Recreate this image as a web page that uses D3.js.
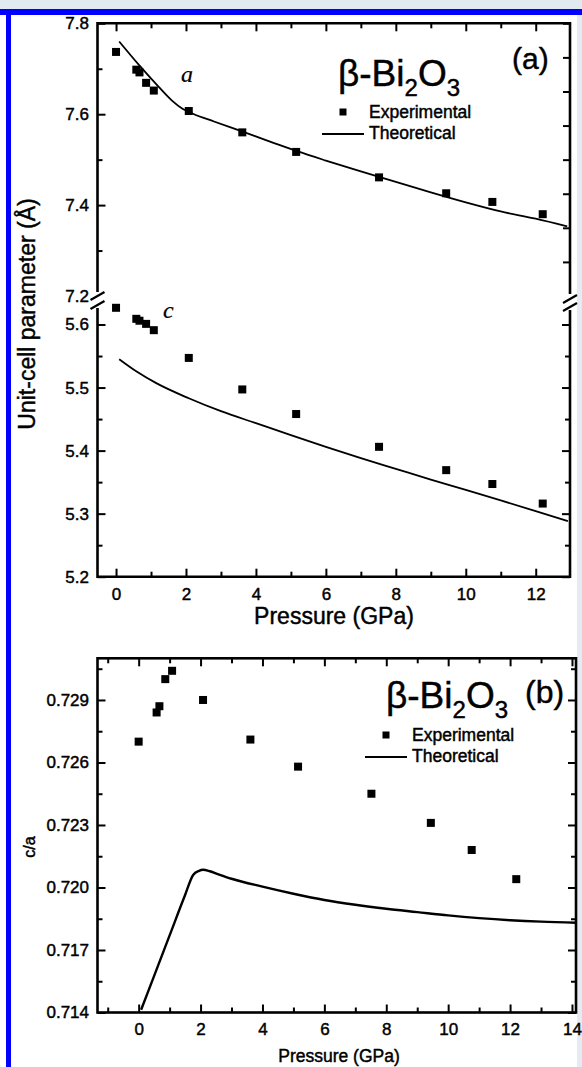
<script src="https://d3js.org/d3.v7.min.js"></script>
<style>
body { margin: 0; background: #fff; }
text { font-family: "Liberation Sans", Arial, sans-serif; fill: #000; stroke: #000; stroke-width: 0.45px; }
text.serif { font-family: "Liberation Serif", "Times New Roman", serif; font-style: italic; stroke-width: 0.2px; }
</style>
<svg id="fig" width="582" height="1067"></svg>
<script>
// pressures of the measured points (GPa)
var pExp = [0, 0.58, 0.67, 0.86, 1.08, 2.08, 3.61, 5.15, 7.52, 9.44, 10.76, 12.2]
var aExp = [7.737, 7.698, 7.692, 7.669, 7.652, 7.607, 7.560, 7.517, 7.461, 7.426, 7.407, 7.380]
var cExp = [5.6265, 5.609, 5.606, 5.601, 5.591, 5.547, 5.497, 5.458, 5.406, 5.369, 5.347, 5.316]
var caExp = [0.7270, 0.7284, 0.7287, 0.7300, 0.7304, 0.7290, 0.7271, 0.7258, 0.7245, 0.7231, 0.7218, 0.7204]

// theoretical curves
var pTheoA = [0.09, 0.66, 1.2, 1.6, 1.9, 2.2, 2.8, 3.6, 4.5, 5.2, 6.0, 7.0, 8.0, 9.0, 10.0, 11.0, 12.0, 12.9]
var aTheo = [7.760, 7.708, 7.662, 7.630, 7.612, 7.601, 7.584, 7.562, 7.537, 7.518, 7.498, 7.474, 7.451, 7.428, 7.406, 7.386, 7.370, 7.353]
var pTheoC = [0.09, 0.6, 1.15, 2.08, 3.0, 4.0, 5.0, 6.0, 7.0, 8.0, 9.0, 10.0, 11.0, 12.0, 12.92]
var cTheo = [5.545, 5.525, 5.507, 5.483, 5.4625, 5.4435, 5.4245, 5.406, 5.388, 5.371, 5.354, 5.3376, 5.321, 5.304, 5.288]
var pTheoCA = [0.08, 0.5, 1.0, 1.5, 1.76, 1.95, 2.08, 2.3, 2.6, 3.0, 4.0, 5.0, 6.0, 7.0, 8.0, 9.0, 10.0, 11.0, 12.0, 13.0, 14.15]
var caTheo = [0.71413, 0.71576, 0.71770, 0.71964, 0.72060, 0.72080, 0.72085, 0.72078, 0.72062, 0.72042, 0.72004, 0.71970, 0.71940, 0.71917, 0.71898, 0.71882, 0.71866, 0.71853, 0.71843, 0.71836, 0.71831]

// ticks
var xTicksA = [0, 2, 4, 6, 8, 10, 12]
var xMinorA = [1, 3, 5, 7, 9, 11]
var yTicksUp = [7.2, 7.4, 7.6, 7.8]
var yMinorUp = [7.3, 7.5, 7.7]
var yTicksLow = [5.2, 5.3, 5.4, 5.5, 5.6]
var yMinorLow = [5.25, 5.35, 5.45, 5.55]
var yRightUp = [7.275, 7.35, 7.425, 7.5, 7.575, 7.65, 7.725, 7.8]
var xTicksB = [0, 2, 4, 6, 8, 10, 12, 14]
var xMinorB = [-1, 1, 3, 5, 7, 9, 11, 13]
var yTicksB = [0.714, 0.717, 0.720, 0.723, 0.726, 0.729]
var yMinorB = [0.7155, 0.7185, 0.7215, 0.7245, 0.7275, 0.7305]

var svg = d3.select("#fig")

// page frame
svg.append("rect").attr("x", 0).attr("y", 0).attr("width", 582).attr("height", 9).attr("fill", "#e1e9f1")
svg.append("rect").attr("x", 577).attr("y", 9).attr("width", 5).attr("height", 1058).attr("fill", "#e4ebf2")
svg.append("rect").attr("x", 0).attr("y", 9).attr("width", 582).attr("height", 6).attr("fill", "#0000ff")
svg.append("rect").attr("x", 6).attr("y", 9).attr("width", 5).attr("height", 1058).attr("fill", "#0000ff")

var A = {left: 97.5, right: 570, top: 23.3, bottom: 576.7, brkTop: 292, brkBot: 308}
var B = {left: 97.5, right: 576, top: 658.3, bottom: 1012.5}

var xA = d3.scaleLinear().domain([-0.53, 12.98]).range([A.left, A.right])
var yUp = d3.scaleLinear().domain([7.2, 7.8]).range([296, A.top])
var yLow = d3.scaleLinear().domain([5.2, 5.6]).range([A.bottom, 324.5])
var xB = d3.scaleLinear().domain([-1.33, 14.13]).range([B.left, B.right])
var yB = d3.scaleLinear().domain([0.714, 0.731]).range([B.bottom, B.top])

function side(tr, gen, vals, size, fmt, pad, fs) {
    let g = svg.append("g").attr("transform", tr)
        .call(gen.tickValues(vals).tickSize(-size).tickPadding(pad).tickFormat(fmt))
    g.select(".domain").remove()
    g.attr("font-size", fs)
    g.selectAll("line").attr("stroke", "#000").attr("stroke-width", 2)
    g.selectAll("text").attr("fill", "#000")
    return g
}
var none = function() { return "" }

// ---- panel (a) axes
side("translate(0," + A.bottom + ")", d3.axisBottom(xA), xTicksA, 8, d3.format("d"), 11, 17)
side("translate(0," + A.bottom + ")", d3.axisBottom(xA), xMinorA, 5, none, 0, 10)
side("translate(0," + A.top + ")", d3.axisTop(xA), xTicksA, 8, none, 0, 10)
side("translate(0," + A.top + ")", d3.axisTop(xA), xMinorA, 5, none, 0, 10)
side("translate(" + A.left + ",0)", d3.axisLeft(yUp), yTicksUp, 8, d3.format(".1f"), 8.5, 17)
  .selectAll(".tick").filter(function(d) { return d == 7.2 }).select("line").remove()
side("translate(" + A.left + ",0)", d3.axisLeft(yUp), yMinorUp, 5, none, 0, 10)
side("translate(" + A.left + ",0)", d3.axisLeft(yLow), yTicksLow, 8, d3.format(".1f"), 8.5, 17)
side("translate(" + A.left + ",0)", d3.axisLeft(yLow), yMinorLow, 5, none, 0, 10)
side("translate(" + A.right + ",0)", d3.axisRight(yUp), yRightUp, 7, none, 0, 10)
side("translate(" + A.right + ",0)", d3.axisRight(yLow), yTicksLow, 8, none, 0, 10)
side("translate(" + A.right + ",0)", d3.axisRight(yLow), yMinorLow, 5, none, 0, 10)

var frame = d3.path()
frame.moveTo(A.left, A.brkTop); frame.lineTo(A.left, A.top); frame.lineTo(A.right, A.top); frame.lineTo(A.right, A.brkTop + 2)
frame.moveTo(A.left, A.brkBot); frame.lineTo(A.left, A.bottom); frame.lineTo(A.right, A.bottom); frame.lineTo(A.right, A.brkBot + 2)
svg.append("path").attr("d", frame.toString()).attr("fill", "none").attr("stroke", "#000").attr("stroke-width", 2.6)

// axis break marks
var brk = d3.path()
;[[A.left, 296], [A.left, 305], [A.right, 299], [A.right, 307]].forEach(function(c) {
    brk.moveTo(c[0] - 7, c[1] + 4); brk.lineTo(c[0] + 7, c[1] - 4)
})
svg.append("path").attr("d", brk.toString()).attr("fill", "none").attr("stroke", "#000").attr("stroke-width", 2.2)

// ---- panel (a) data
var lineA = d3.line().x(function(d) { return xA(d[0]) }).y(function(d) { return yUp(d[1]) }).curve(d3.curveMonotoneX)
var lineC = d3.line().x(function(d) { return xA(d[0]) }).y(function(d) { return yLow(d[1]) }).curve(d3.curveMonotoneX)
svg.append("path").attr("d", lineA(d3.zip(pTheoA, aTheo))).attr("fill", "none").attr("stroke", "#000").attr("stroke-width", 1.8)
svg.append("path").attr("d", lineC(d3.zip(pTheoC, cTheo))).attr("fill", "none").attr("stroke", "#000").attr("stroke-width", 1.8)

var sq = 8
svg.append("g").selectAll("rect").data(d3.zip(pExp, aExp)).join("rect")
    .attr("x", function(d) { return xA(d[0]) - sq / 2 }).attr("y", function(d) { return yUp(d[1]) - sq / 2 })
    .attr("width", sq).attr("height", sq).attr("fill", "#000")
svg.append("g").selectAll("rect").data(d3.zip(pExp, cExp)).join("rect")
    .attr("x", function(d) { return xA(d[0]) - sq / 2 }).attr("y", function(d) { return yLow(d[1]) - sq / 2 })
    .attr("width", sq).attr("height", sq).attr("fill", "#000")

svg.append("text").attr("class", "serif").attr("x", 181).attr("y", 82).attr("font-size", 24).text("a")
svg.append("text").attr("class", "serif").attr("x", 163).attr("y", 318).attr("font-size", 24).text("c")

function title(x, y, fs, sub) {
    let t = svg.append("text").attr("x", x).attr("y", y).attr("font-size", fs)
    t.append("tspan").text("\u03b2-Bi")
    t.append("tspan").attr("dy", 10).attr("font-size", sub).text("2")
    t.append("tspan").attr("dy", -10).text("O")
    t.append("tspan").attr("dy", 10).attr("font-size", sub).text("3")
}
function legend(x, y) {
    svg.append("rect").attr("x", x - 3.5).attr("y", y - 3.5).attr("width", 7).attr("height", 7).attr("fill", "#000")
    svg.append("text").attr("x", x + 26).attr("y", y + 5.5).attr("font-size", 17.5).text("Experimental")
    svg.append("line").attr("x1", x - 21).attr("x2", x + 21).attr("y1", y + 22).attr("y2", y + 22)
        .attr("stroke", "#000").attr("stroke-width", 2)
    svg.append("text").attr("x", x + 26).attr("y", y + 27).attr("font-size", 17.5).text("Theoretical")
}

title(338, 86, 37, 24)
svg.append("text").attr("x", 512).attr("y", 68.5).attr("font-size", 30).text("(a)")
legend(343, 112)

svg.append("text").attr("transform", "translate(35,314) rotate(-90)").attr("text-anchor", "middle")
    .attr("font-size", 23).text("Unit-cell parameter (\u00c5)")
svg.append("text").attr("x", 334).attr("y", 624).attr("text-anchor", "middle").attr("font-size", 23).text("Pressure (GPa)")

// ---- panel (b)
side("translate(0," + B.bottom + ")", d3.axisBottom(xB), xTicksB, 8, d3.format("d"), 10.5, 17)
side("translate(0," + B.bottom + ")", d3.axisBottom(xB), xMinorB, 5, none, 0, 10)
side("translate(0," + B.top + ")", d3.axisTop(xB), xTicksB, 8, none, 0, 10)
side("translate(0," + B.top + ")", d3.axisTop(xB), xMinorB, 5, none, 0, 10)
side("translate(" + B.left + ",0)", d3.axisLeft(yB), yTicksB, 8, d3.format(".3f"), 8.5, 17)
side("translate(" + B.left + ",0)", d3.axisLeft(yB), yMinorB, 5, none, 0, 10)
side("translate(" + B.right + ",0)", d3.axisRight(yB), yTicksB, 8, none, 0, 10)
side("translate(" + B.right + ",0)", d3.axisRight(yB), yMinorB, 5, none, 0, 10)
svg.append("rect").attr("x", B.left).attr("y", B.top).attr("width", B.right - B.left).attr("height", B.bottom - B.top)
    .attr("fill", "none").attr("stroke", "#000").attr("stroke-width", 2.6)

var lineCA = d3.line().x(function(d) { return xB(d[0]) }).y(function(d) { return yB(d[1]) }).curve(d3.curveMonotoneX)
svg.append("path").attr("d", lineCA(d3.zip(pTheoCA, caTheo))).attr("fill", "none").attr("stroke", "#000").attr("stroke-width", 2.4)
svg.append("g").selectAll("rect").data(d3.zip(pExp, caExp)).join("rect")
    .attr("x", function(d) { return xB(d[0]) - sq / 2 }).attr("y", function(d) { return yB(d[1]) - sq / 2 })
    .attr("width", sq).attr("height", sq).attr("fill", "#000")

title(386, 708, 37, 24)
svg.append("text").attr("x", 525).attr("y", 703).attr("font-size", 32).text("(b)")
legend(386, 735)

svg.append("text").attr("transform", "translate(35,847) rotate(-90)").attr("text-anchor", "middle")
    .attr("font-size", 16).text("c/a")
svg.append("text").attr("x", 339).attr("y", 1062).attr("text-anchor", "middle").attr("font-size", 17.5).text("Pressure (GPa)")
</script>
